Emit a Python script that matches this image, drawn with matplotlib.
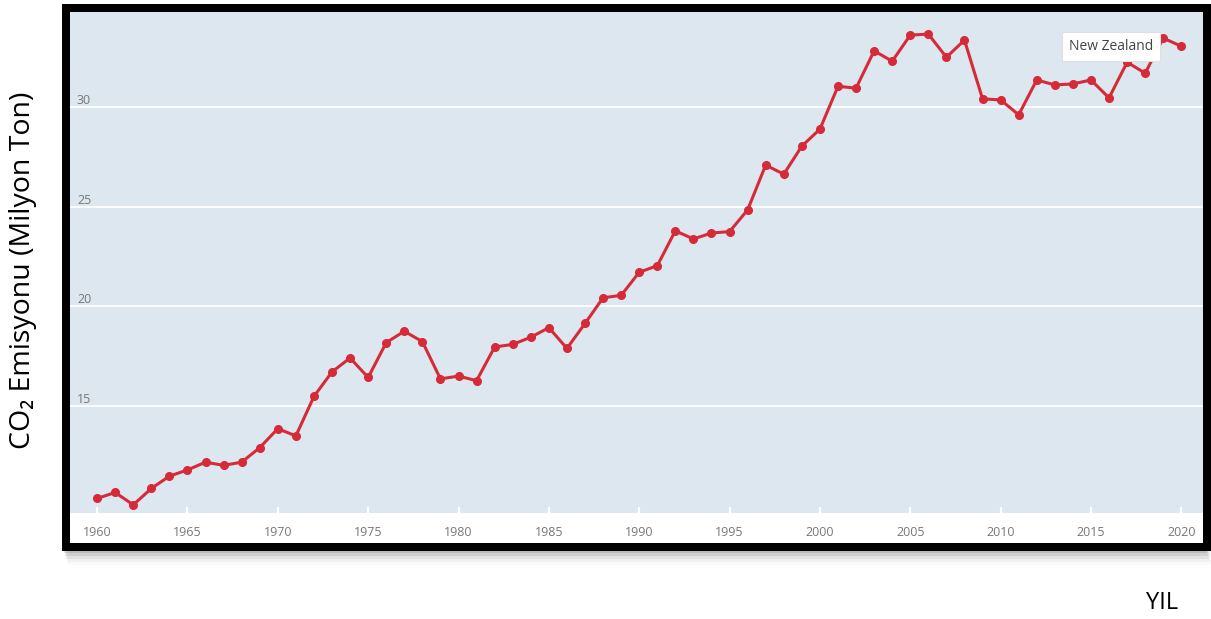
import matplotlib
matplotlib.use("Agg")
import matplotlib.pyplot as plt
from matplotlib.patches import Rectangle

# CO2 emissions of New Zealand, million tonnes
years = list(range(1960, 2021))
co2 = [10.36, 10.66, 10.04, 10.86, 11.48, 11.79, 12.18, 12.02, 12.18, 12.91,
       13.86, 13.50, 15.48, 16.71, 17.41, 16.43, 18.18, 18.75, 18.23, 16.36,
       16.50, 16.27, 17.96, 18.09, 18.45, 18.93, 17.89, 19.14, 20.43, 20.55,
       21.71, 22.04, 23.79, 23.38, 23.68, 23.75, 24.84, 27.09, 26.63, 28.04,
       28.89, 31.04, 30.95, 32.82, 32.30, 33.61, 33.66, 32.50, 33.36, 30.41,
       30.36, 29.61, 31.36, 31.11, 31.16, 31.36, 30.46, 32.25, 31.70, 33.46,
       33.05]
series_name = "New Zealand"
xticks = list(range(1960, 2021, 5))
yticks = [15, 20, 25, 30]

W, H = 1211, 619
fig = plt.figure(figsize=(W / 100, H / 100), dpi=100)

def fx(px):
    return px / W

def fy(px):
    return 1 - px / H

# soft shadow under the frame
for i, a in enumerate([0.10, 0.08, 0.06, 0.04, 0.02]):
    fig.patches.append(Rectangle((fx(64 + i), fy(553 + 3 * i)), fx(1143), (3 + 3 * i) / H,
                                 transform=fig.transFigure, facecolor="black",
                                 alpha=a, edgecolor="none", zorder=0))

# black frame with white inside
frame = fig.add_axes([fx(66), fy(547), fx(1207 - 66), (547 - 8) / H])
frame.set_facecolor("white")
frame.set_xticks([])
frame.set_yticks([])
for s in frame.spines.values():
    s.set_linewidth(5.76)
    s.set_color("black")

ax = fig.add_axes([fx(70), fy(513), fx(1203 - 70), (513 - 12) / H])
ax.set_facecolor("#dde7f0")
ax.plot(years, co2, color="#d62a38", lw=2.2, marker="o", ms=5.5,
        mec="#d62a38", zorder=3)

ax.set_xlim(1958.5, 2021.2)
ax.set_ylim(9.63, 34.77)
ax.set_xticks(xticks)
ax.set_yticks(yticks)
ax.grid(axis="y", color="white", lw=1.3)
ax.set_axisbelow(True)
for s in ax.spines.values():
    s.set_visible(False)

ax.tick_params(axis="x", direction="in", length=4, width=1.5, color="white",
               pad=9, labelsize=9, labelcolor="#777777")
ax.tick_params(axis="y", length=0, pad=-5, labelsize=9, labelcolor="#777777")
for lab in ax.get_xticklabels() + ax.get_yticklabels():
    lab.set_family("Open Sans")
for lab in ax.get_yticklabels():
    lab.set_horizontalalignment("left")
    lab.set_verticalalignment("bottom")

ax.annotate(series_name, xy=(years[-2], co2[-2]), xytext=(-10, -8),
            textcoords="offset pixels", ha="right", va="center",
            fontsize=10, color="#444444", family="Open Sans", zorder=5,
            bbox=dict(boxstyle="square,pad=0.5", fc="white", ec="#e0e0e0", lw=0.8))

fig.text(fx(23), fy(270), "CO₂ Emisyonu (Milyon Ton)", rotation=90,
         ha="center", va="center", fontsize=20.5, color="black",
         family=["Open Sans", "DejaVu Sans"])
fig.text(fx(1162), fy(603), "YIL", ha="center", va="center", fontsize=17,
         color="black", family="Open Sans")

fig.savefig("out.png", dpi=100, facecolor="white")
